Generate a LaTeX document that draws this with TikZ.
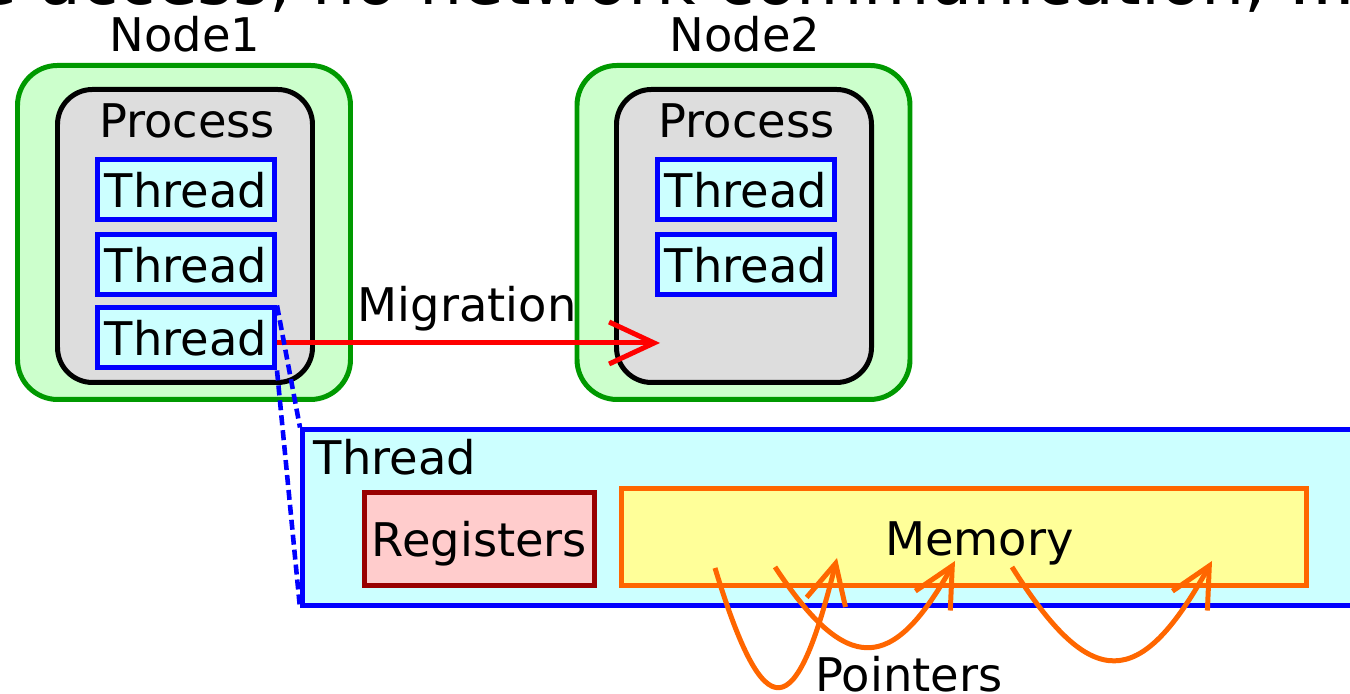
\documentclass[tikz,border=0pt]{standalone}
\usepackage{fontspec}
\setmainfont{DejaVu Sans}
\usetikzlibrary{arrows.meta,positioning,calc}
\usepackage{xcolor}
\definecolor{hostgreen}{RGB}{0,153,0}
\definecolor{hostfill}{RGB}{204,255,204}
\definecolor{procfill}{RGB}{221,221,221}
\definecolor{thrfill}{RGB}{204,255,255}
\definecolor{regred}{RGB}{153,0,0}
\definecolor{regfill}{RGB}{255,204,204}
\definecolor{memorange}{RGB}{255,102,0}
\definecolor{memfill}{RGB}{255,255,153}

\begin{document}
\begin{tikzpicture}[
  lbl/.style={font=\fontsize{13.2}{15}\selectfont,inner sep=0pt},
  host/.style={draw=hostgreen,fill=hostfill,line width=1.42pt,rounded corners=0.4cm,
    minimum width=3.33cm,minimum height=3.34cm},
  procbox/.style={draw=black,fill=procfill,line width=1.42pt,rounded corners=0.35cm,
    minimum width=2.55cm,minimum height=2.93cm},
  thr/.style={lbl,draw=blue,fill=thrfill,line width=1.42pt,minimum width=1.77cm,minimum height=0.6cm},
  regbox/.style={lbl,draw=regred,fill=regfill,line width=1.42pt,minimum width=2.30cm,
    minimum height=0.93cm,text depth=0pt},
  membox/.style={draw=memorange,fill=memfill,line width=1.42pt,minimum width=6.85cm,minimum height=0.97cm},
  zoomline/.style={draw=blue,line width=1.3pt,dash pattern=on 0.1cm off 0.05cm},
  ptr/.style={draw=memorange,line width=1.42pt,-{Straight Barb[length=0.4cm,width=0.4cm]}}
]
\useasboundingbox (0,0) rectangle (13.5,6.94);

% cut-off line at the top
\node[anchor=base west,inner sep=0pt,font=\fontsize{19.4}{23}\selectfont] (cut) at (-0.25,6.89)
  {e access, no network communication, \ldots};

% the two nodes
\node[lbl,anchor=base] (n1lbl) at (1.85,6.42) {Node1};
\node[lbl,anchor=base] (n2lbl) at (7.45,6.42) {Node2};
\node[host] (n1) at (1.84,4.615) {};
\node[host] (n2) at (7.435,4.615) {};
\node[procbox] (p1) at (1.85,4.58) {};
\node[procbox] (p2) at (7.44,4.58) {};
\node[lbl,anchor=base] (p1lbl) at (1.87,5.56) {Process};
\node[lbl,anchor=base] (p2lbl) at (7.465,5.56) {Process};

\node[thr] (t11) at (1.86,5.04) {Thread};
\node[thr,below=0.10cm of t11] (t12) {Thread};
\node[thr,below=0.08cm of t12] (t13) {Thread};
\node[thr] (t21) at (7.46,5.04) {Thread};
\node[thr,below=0.10cm of t21] (t22) {Thread};

% migration
\coordinate (land) at (6.60,3.51);
\draw[red,line width=1.42pt,-{Straight Barb[length=0.45cm,width=0.42cm]}] (t13.east |- land) -- (land);
\node[lbl,anchor=base] (miglbl) at (4.67,3.72) {Migration};

% zoomed thread
\node[draw=blue,fill=thrfill,line width=1.42pt,anchor=north west,minimum width=11cm,
  minimum height=1.76cm] (tbig) at (3.00,2.665) {};
\node[lbl,anchor=base west] (tbiglbl) at (3.13,2.19) {Thread};
\draw[zoomline] (t13.north east) -- (tbig.north west);
\draw[zoomline] (t13.south east) -- (tbig.south west);

\node[regbox] (regs) at (4.795,1.55) {Registers};
\node[membox] (mem) at (9.64,1.57) {};
\node[lbl,anchor=base] (memlbl) at (9.795,1.38) {Memory};

% pointers
\coordinate (a1) at (7.15,1.26);  \coordinate (b1) at (8.37,1.36);
\coordinate (a2) at (7.75,1.27);  \coordinate (b2) at (9.55,1.33);
\coordinate (a3) at (10.12,1.27); \coordinate (b3) at (12.12,1.33);
\draw[ptr] (a1) .. controls (7.65,-0.38) and (7.96,-0.30) .. (b1);
\draw[ptr] (a2) .. controls (8.465,0.19) and (8.92,0.20) .. (b2);
\draw[ptr] (a3) .. controls (10.91,0.01) and (11.40,0.03) .. (b3);
\node[lbl,anchor=base] (ptrlbl) at (9.09,0.02) {Pointers};
\end{tikzpicture}
\end{document}
